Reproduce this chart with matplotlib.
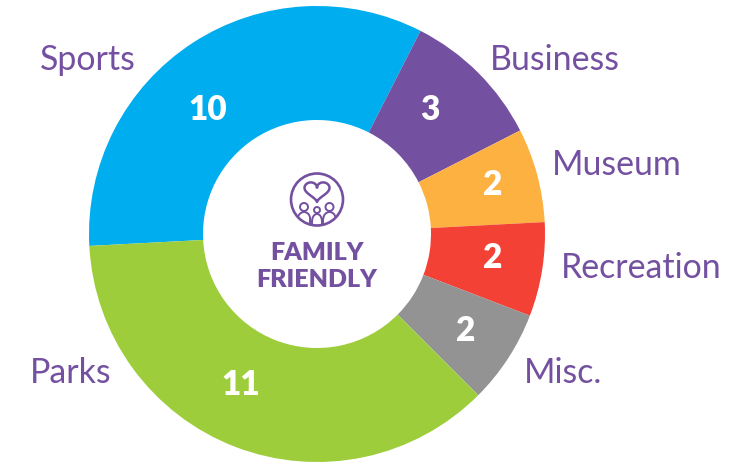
import numpy as np
import matplotlib
matplotlib.use('Agg')
import matplotlib.pyplot as plt
from matplotlib.patches import Circle, Arc

plt.rcParams['font.family'] = ['Lato', 'DejaVu Sans']

categories = ['Sports', 'Business', 'Museum', 'Recreation', 'Misc.', 'Parks']
counts = [10, 3, 2, 2, 2, 11]
colors = ['#00adee', '#7450a0', '#fdb141', '#f34135', '#939393', '#9ecd3b']
purple = '#7450a0'

W, H = 752, 463
fig = plt.figure(figsize=(W / 100, H / 100), dpi=100)
ax = fig.add_axes([0, 0, 1, 1])


def py(y):
    # pixel row from the top to axis y
    return H - y


# centre and radii
cx, cy, r_out, r_in = 317, 234, 228, 114

ax.pie(counts, colors=colors, startangle=183, counterclock=False,
       radius=r_out, center=(cx, py(cy)),
       wedgeprops=dict(width=r_out - r_in), frame=True)
ax.set_xlim(0, W)
ax.set_ylim(0, H)
ax.set_aspect('equal')
ax.axis('off')

value_pos = [(208, 110), (430, 110), (493, 185), (493, 258), (466, 331), (241, 385)]
label_pos = [(40, 60), (490, 60), (552, 165), (561, 268), (524, 373), (30, 373)]

for n, (x, y) in zip(counts, value_pos):
    ax.text(x, py(y), str(n), color='white', fontsize=24, fontweight='heavy',
            ha='center', va='center')
for name, (x, y) in zip(categories, label_pos):
    ax.text(x, py(y), name, color=purple, fontsize=24.4, ha='left', va='center')

ax.text(317, py(253), 'FAMILY', color=purple, fontsize=18, fontweight='heavy', ha='center', va='center')
ax.text(317, py(280), 'FRIENDLY', color=purple, fontsize=18, fontweight='heavy', ha='center', va='center')

# family icon
ring = Circle((317, py(199.5)), 26, fill=False, ec=purple, lw=1.9)
ax.add_patch(ring)
t = np.linspace(0, 2 * np.pi, 100)
hx = 317 + 12.5 * np.sin(t) ** 3
hy = py(190.5) + 0.68 * (13 * np.cos(t) - 5 * np.cos(2 * t) - 2 * np.cos(3 * t) - np.cos(4 * t))
ax.plot(hx, hy, color=purple, lw=1.8)
clip = Circle((317, py(199.5)), 26, transform=ax.transData)
for x, y, r in [(304, 207, 4), (317, 210, 3), (329.5, 207, 4)]:
    ax.add_patch(Circle((x, py(y)), r, fill=False, ec=purple, lw=1.4))
    body_y = py(y + r + 8)
    body = Arc((x, body_y), 2.6 * r + 2, 14, theta1=0, theta2=180, ec=purple, lw=1.4)
    ax.add_patch(body)
    body.set_clip_path(clip)
    for side in (-1, 1):
        edge = ax.plot([x + side * (1.3 * r + 1)] * 2, [body_y, body_y - 8], color=purple, lw=1.4)[0]
        edge.set_clip_path(clip)

fig.savefig('out.png', dpi=100)
